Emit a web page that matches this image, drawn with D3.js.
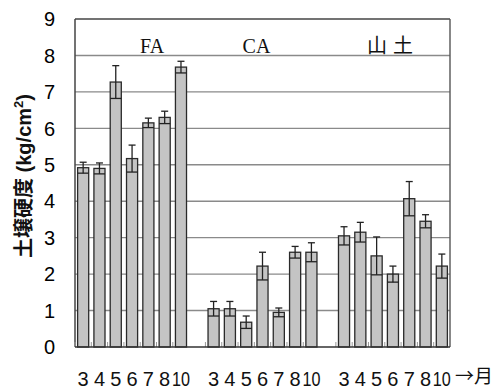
<!DOCTYPE html>
<html>
<head>
<meta charset="utf-8">
<style>
  body { margin: 0; background: #fff; }
  svg { display: block; }
</style>
</head>
<body>
<svg id="chart" width="501" height="390"></svg>
<script src="https://d3js.org/d3.v7.min.js"></script>
<script>
// Data
const months = ["3", "4", "5", "6", "7", "8", "10"];
const groups = ["FA", "CA", "山土"];
const faMean = [4.92, 4.9, 7.27, 5.17, 6.15, 6.3, 7.68];
const faErr = [0.15, 0.15, 0.45, 0.37, 0.13, 0.17, 0.16];
const caMean = [1.05, 1.05, 0.68, 2.22, 0.95, 2.6, 2.6];
const caErr = [0.2, 0.2, 0.17, 0.38, 0.12, 0.16, 0.26];
const yamaMean = [3.05, 3.15, 2.5, 2.0, 4.07, 3.45, 2.22];
const yamaErr = [0.25, 0.27, 0.52, 0.22, 0.47, 0.18, 0.33];
const yTicks = [0, 1, 2, 3, 4, 5, 6, 7, 8, 9];

const means = [faMean, caMean, yamaMean];
const errs = [faErr, caErr, yamaErr];

// Build slots: 7 bars per group with an empty slot between groups
const slots = [];
const bars = [];
groups.forEach((g, gi) => {
  months.forEach((m, mi) => {
    const key = g + "-" + m;
    slots.push(key);
    bars.push({ key, group: g, month: m, mean: means[gi][mi], err: errs[gi][mi] });
  });
  if (gi < groups.length - 1) slots.push("gap" + gi);
});

const margin = { left: 75, right: 51, top: 19, bottom: 43 };
const width = 501, height = 390;
const svg = d3.select("#chart");

const x = d3.scaleBand()
  .domain(slots)
  .range([margin.left, width - margin.right])
  .paddingInner(0.32)
  .paddingOuter(0.16);

const y = d3.scaleLinear()
  .domain([0, 9])
  .range([height - margin.bottom, margin.top]);

const sans = "'Liberation Sans', Arial, sans-serif";
const cjk = "'Noto Sans CJK JP', sans-serif";

// Gridlines
svg.append("g")
  .selectAll("line")
  .data(yTicks.slice(1))
  .join("line")
  .attr("x1", margin.left)
  .attr("x2", width - margin.right)
  .attr("y1", d => y(d))
  .attr("y2", d => y(d))
  .attr("stroke", d => d === 9 ? "#444" : "#8a8a8a")
  .attr("stroke-width", 1.4);

// Frame: left and right sides
svg.append("line")
  .attr("x1", margin.left).attr("x2", margin.left)
  .attr("y1", y(9)).attr("y2", y(0))
  .attr("stroke", "#444").attr("stroke-width", 1.5);
svg.append("line")
  .attr("x1", width - margin.right).attr("x2", width - margin.right)
  .attr("y1", y(9)).attr("y2", y(0))
  .attr("stroke", "#555").attr("stroke-width", 1.4);

// Small ticks on the baseline at slot edges
const step = x.step();
svg.append("g")
  .selectAll("line")
  .data(slots.filter(s => !s.startsWith("gap")))
  .join("line")
  .attr("x1", d => x(d) - step * 0.16)
  .attr("x2", d => x(d) - step * 0.16)
  .attr("y1", y(0))
  .attr("y2", y(0) - 5)
  .attr("stroke", "#999")
  .attr("stroke-width", 1);

// Bars
svg.append("g")
  .selectAll("rect")
  .data(bars)
  .join("rect")
  .attr("x", d => x(d.key))
  .attr("y", d => y(d.mean))
  .attr("width", x.bandwidth())
  .attr("height", d => y(0) - y(d.mean))
  .attr("fill", "#c4c4c4")
  .attr("stroke", "#2a2a2a")
  .attr("stroke-width", 1.3);

// Error bars
const eb = svg.append("g")
  .attr("stroke", "#222")
  .attr("stroke-width", 1.3)
  .selectAll("g")
  .data(bars)
  .join("g");
eb.append("line")
  .attr("x1", d => x(d.key) + x.bandwidth() / 2)
  .attr("x2", d => x(d.key) + x.bandwidth() / 2)
  .attr("y1", d => y(d.mean - d.err))
  .attr("y2", d => y(d.mean + d.err));
eb.append("line")
  .attr("x1", d => x(d.key) + x.bandwidth() / 2 - 3.5)
  .attr("x2", d => x(d.key) + x.bandwidth() / 2 + 3.5)
  .attr("y1", d => y(d.mean + d.err))
  .attr("y2", d => y(d.mean + d.err));
eb.append("line")
  .attr("x1", d => x(d.key))
  .attr("x2", d => x(d.key) + x.bandwidth())
  .attr("y1", d => y(d.mean - d.err))
  .attr("y2", d => y(d.mean - d.err));

// Baseline
svg.append("line")
  .attr("x1", margin.left).attr("x2", width - margin.right)
  .attr("y1", y(0)).attr("y2", y(0))
  .attr("stroke", "#333").attr("stroke-width", 1.6);

// Y tick labels
svg.append("g")
  .selectAll("text")
  .data(yTicks)
  .join("text")
  .attr("x", 55)
  .attr("y", d => y(d))
  .attr("dy", "0.36em")
  .attr("text-anchor", "end")
  .attr("font-family", sans)
  .attr("font-size", 20)
  .attr("fill", "#000")
  .text(d => d);

// Y axis title
const title = svg.append("text")
  .attr("transform", "translate(31,176) rotate(-90)")
  .attr("text-anchor", "middle")
  .attr("font-family", sans)
  .attr("font-size", 20)
  .attr("font-weight", "bold")
  .attr("fill", "#111");
title.append("tspan").attr("font-family", cjk).text("土壌硬度");
title.append("tspan").text(" (kg/cm");
title.append("tspan").attr("dy", -8).attr("font-size", 13).text("2");
title.append("tspan").attr("dy", 8).text(")");

// Month labels under bars
svg.append("g")
  .selectAll("text")
  .data(bars)
  .join("text")
  .attr("x", d => x(d.key) + x.bandwidth() / 2)
  .attr("y", 386)
  .attr("text-anchor", "middle")
  .attr("font-family", sans)
  .attr("font-size", 20)
  .attr("fill", "#111")
  .attr("textLength", d => d.month.length > 1 ? 18 : null)
  .attr("lengthAdjust", "spacingAndGlyphs")
  .text(d => d.month);

svg.append("text")
  .attr("x", 455)
  .attr("y", 383)
  .attr("font-family", cjk)
  .attr("font-size", 19)
  .attr("fill", "#111")
  .text("→月");

// Group labels
const groupX = groups.map(g => {
  const first = x(g + "-" + months[0]);
  const last = x(g + "-" + months[months.length - 1]) + x.bandwidth();
  return (first + last) / 2;
});
svg.append("g")
  .selectAll("text")
  .data(groups)
  .join("text")
  .attr("x", (d, i) => groupX[i] + [20, -6, 0][i])
  .attr("y", 53)
  .attr("text-anchor", "middle")
  .attr("font-family", (d, i) => i === 2 ? cjk : "'Liberation Serif', serif")
  .attr("font-size", 20)
  .attr("letter-spacing", (d, i) => i === 2 ? 6 : 0)
  .attr("fill", "#111")
  .text(d => d);
</script>
</body>
</html>
